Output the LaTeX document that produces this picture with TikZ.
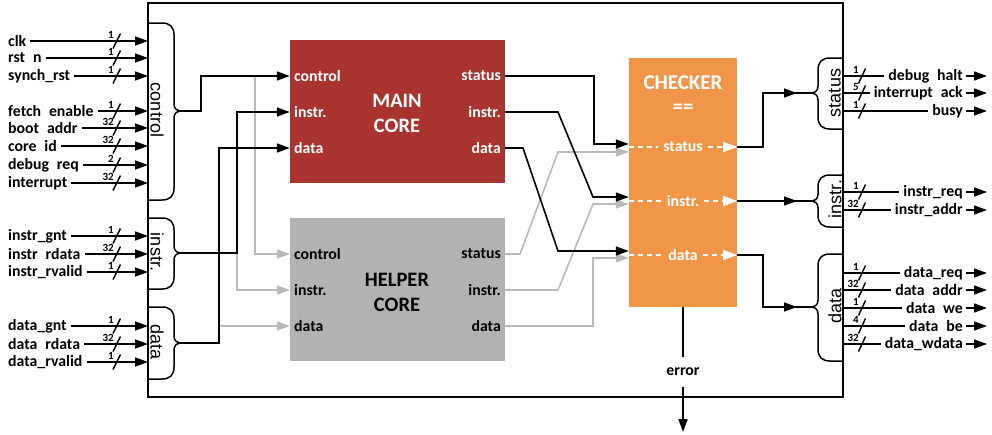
\documentclass[tikz,border=0pt]{standalone}
\usepackage{fontspec}
\setmainfont{Carlito}
\newfontfamily\brfont{Liberation Sans}
\usetikzlibrary{arrows.meta,calc}
\definecolor{mainred}{RGB}{169,51,46}
\definecolor{helpgray}{RGB}{178,178,178}
\definecolor{chkorange}{RGB}{241,150,73}
\definecolor{wiregray}{RGB}{185,185,185}
\newcommand\us{\hspace{0.5em}}
\tikzset{
  lbl/.style={font=\fontsize{15.8}{18}\selectfont\bfseries, inner sep=0pt},
  bits/.style={font=\fontsize{11}{12}\selectfont\bfseries, inner sep=0pt, anchor=south east},
  sig/.style={line width=1.6pt, black},
  tip/.style={-{Triangle[length=13pt,width=9pt]}},
  gsig/.style={line width=1.6pt, wiregray},
  slash/.style={line width=1.4pt, black},
  brc/.style={line width=1.5pt},
  brlbl/.style={font=\brfont\fontsize{18}{20}\selectfont, inner sep=0pt},
  corebox/.style={minimum width=215pt, minimum height=143pt, inner sep=0pt},
  corename/.style={font=\fontsize{20.5}{25}\selectfont\bfseries, align=center, inner sep=0pt},
  wdash/.style={white, line width=1.4pt, dash pattern=on 5pt off 4pt},
}
% input port: name, y, label, bits
\newcommand\inport[4]{%
  \node[lbl,anchor=west] (#1) at (8,#2) {#3};
  \coordinate (#1-e) at (148,#2);
  \draw[sig,tip,shorten <=4pt] (#1) -- (#1-e);
  \draw[slash] (113,#2+7.5) -- (120.5,#2-7.5);
  \node[bits] (#1-b) at (114,#2-2.5) {#4};
}
% output port: name, y, label, bits
\newcommand\outport[4]{%
  \node[lbl,anchor=east] (#1) at (963,#2) {#3};
  \coordinate (#1-s) at (843,#2);
  \coordinate (#1-t) at (987,#2);
  \draw[sig,shorten >=4pt] (#1-s) -- (#1);
  \draw[sig,tip,shorten <=3pt] (#1) -- (#1-t);
  \draw[slash] (858.5,#2+7.5) -- (865.5,#2-7.5);
  \node[bits] (#1-b) at (859,#2-2.5) {#4};
}
% left brace: tip name, top, mid, bot
\newcommand\lbrc[4]{%
  \draw[brc] (148,#2) -- (162,#2) .. controls (170,#2) and (174,#2+4) .. (174,#2+12)
    -- (174,#3-7) .. controls (174,#3-2) and (177,#3) .. (182,#3);
  \draw[brc] (148,#4) -- (162,#4) .. controls (170,#4) and (174,#4-4) .. (174,#4-12)
    -- (174,#3+7) .. controls (174,#3+2) and (177,#3) .. (182,#3);
  \coordinate (#1) at (182,#3);
}
% right brace: tip name, top, mid, bot
\newcommand\rbrc[4]{%
  \draw[brc] (843,#2) -- (830,#2) .. controls (822,#2) and (818,#2+4) .. (818,#2+12)
    -- (818,#3-7) .. controls (818,#3-2) and (815,#3) .. (810,#3);
  \draw[brc] (843,#4) -- (830,#4) .. controls (822,#4) and (818,#4-4) .. (818,#4-12)
    -- (818,#3+7) .. controls (818,#3+2) and (815,#3) .. (810,#3);
  \coordinate (#1) at (810,#3);
}
\begin{document}
\begin{tikzpicture}[x=1pt,y=-1pt]
\useasboundingbox (0,0) rectangle (992,434);
% frame
\draw[line width=2pt] (148,3) rectangle (843,397);

% inputs
\inport{clk}{41}{clk}{1}
\inport{rstn}{58}{rst\us n}{1}
\inport{synch}{76}{synch\_rst}{1}
\inport{fetch}{111}{fetch\us enable}{1}
\inport{boot}{128}{boot\us addr}{32}
\inport{coreid}{146}{core\us id}{32}
\inport{dbgreq}{165}{debug\us req}{2}
\inport{irq}{183}{interrupt}{32}
\inport{igrant}{236}{instr\_gnt}{1}
\inport{irdata}{254}{instr\us rdata}{32}
\inport{irvalid}{272}{instr\_rvalid}{1}
\inport{dgrant}{326}{data\_gnt}{1}
\inport{drdata}{344}{data\us rdata}{32}
\inport{drvalid}{362}{data\_rvalid}{1}

% outputs
\outport{dhalt}{76}{debug\us halt}{1}
\outport{iack}{93}{interrupt\us ack}{5}
\outport{busy}{111}{busy}{1}
\outport{ireq}{192}{instr\_req}{1}
\outport{iaddr}{210}{instr\_addr}{32}
\outport{dreq}{273}{data\_req}{1}
\outport{daddr}{290}{data\us addr}{32}
\outport{dwe}{308}{data\us we}{1}
\outport{dbe}{326}{data\us be}{4}
\outport{dwdata}{344}{data\_wdata}{32}

% braces
\lbrc{bctl}{23}{111}{200}
\lbrc{bins}{218}{253}{289}
\lbrc{bdat}{307}{343}{379}
\node[brlbl,rotate=-90] (bctl-l) at (157,110) {control};
\node[brlbl,rotate=-90] (bins-l) at (157,252) {instr.};
\node[brlbl,rotate=-90] (bdat-l) at (157,342) {data};
\rbrc{rsts}{58}{93}{129}
\rbrc{rins}{175}{201}{227}
\rbrc{rdat}{254}{307}{361}
\node[brlbl,rotate=90] (rsts-l) at (835,93) {status};
\node[brlbl,rotate=90] (rins-l) at (835,199) {instr.};
\node[brlbl,rotate=90] (rdat-l) at (835,306) {data};

% cores
\node[corebox,fill=mainred] (main) at (397.5,111.5) {};
\node[corebox,fill=helpgray] (help) at (397.5,289) {};
\node[corename,text=white] (mainname) at (397,113) {MAIN\\CORE};
\node[corename,text=black] (helpname) at (397,292) {HELPER\\CORE};
\node[lbl,text=white,anchor=west] (mci) at (294,76) {control};
\node[lbl,text=white,anchor=west] (mii) at (294,112) {instr.};
\node[lbl,text=white,anchor=west] (mdi) at (294,148) {data};
\node[lbl,text=white,anchor=east] (mso) at (501,76) {status};
\node[lbl,text=white,anchor=east] (mio) at (501,112) {instr.};
\node[lbl,text=white,anchor=east] (mdo) at (501,148) {data};
\node[lbl,anchor=west] (hci) at (294,254) {control};
\node[lbl,anchor=west] (hii) at (294,290) {instr.};
\node[lbl,anchor=west] (hdi) at (294,326) {data};
\node[lbl,anchor=east] (hso) at (501,254) {status};
\node[lbl,anchor=east] (hio) at (501,290) {instr.};
\node[lbl,anchor=east] (hdo) at (501,326) {data};

% checker
\node[fill=chkorange, minimum width=108pt, minimum height=249pt, inner sep=0pt] (chk) at (683,182.5) {};
\node[corename,text=white,font=\fontsize{21}{24}\selectfont\bfseries] (chkname) at (683,95) {CHECKER\\==};
\node[lbl,text=white] (cks) at (683,147) {status};
\node[lbl,text=white] (cki) at (683,201) {instr.};
\node[lbl,text=white] (ckd) at (683,255) {data};
\foreach \p in {cks,cki,ckd}{
  \draw[wdash] (chk.west |- \p) -- ([xshift=-5pt]\p.west);
  \draw[wdash,-{Triangle[length=14pt,width=10pt]}] ([xshift=5pt]\p.east) -- (chk.east |- \p);
}

% left wiring: gray first
\draw[gsig,tip] (255,76) |- (help.west |- hci);
\draw[gsig,tip] (237,253) |- (help.west |- hii);
\draw[gsig,tip] (219,326) -- (help.west |- hdi);
\draw[sig,tip] (bctl) -- (201,111) |- (main.west |- mci);
\draw[sig,tip] (bins) -- (237,253) |- (main.west |- mii);
\draw[sig,tip] (bdat) -- (219,343) |- (main.west |- mdi);

% middle wiring
\draw[gsig,tip] (help.east |- hso) -- (520,254) -- (558,152) -- (chk.west |- 0,152);
\draw[gsig,tip] (help.east |- hio) -- (558,290) -- (593,204) -- (chk.west |- 0,204);
\draw[gsig,tip] (help.east |- hdo) -- (593,326) -- (593,258) -- (chk.west |- 0,258);
\draw[sig,tip] (main.east |- mso) -- (594,76) -- (594,144) -- (chk.west |- 0,144);
\draw[sig,tip] (main.east |- mio) -- (558,112) -- (593,197) -- (chk.west |- 0,197);
\draw[sig,tip] (main.east |- mdo) -- (523,148) -- (558,251) -- (chk.west |- 0,251);

% right wiring
\draw[sig,tip] (chk.east |- cks) -- (763,147) |- (797,93);
\draw[sig] (795,93) -- (rsts);
\draw[sig,tip] (chk.east |- cki) -- (797,201);
\draw[sig] (795,201) -- (rins);
\draw[sig,tip] (chk.east |- ckd) -- (763,255) |- (797,307);
\draw[sig] (795,307) -- (rdat);

% error
\coordinate (errend) at (683,432);
\draw[sig,tip] (chk.south) -- (errend);
\node[lbl,fill=white,minimum height=30pt,inner xsep=2pt] (err) at (683,372) {error};
\end{tikzpicture}
\end{document}
